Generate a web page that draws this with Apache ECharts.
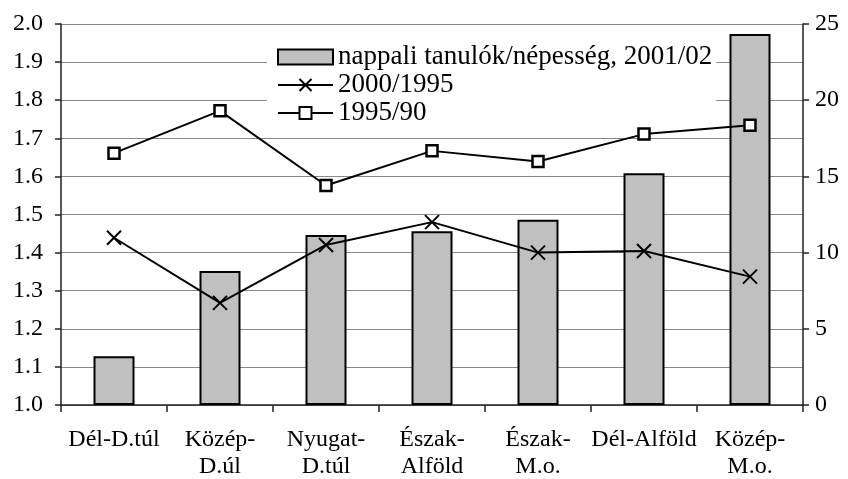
<!DOCTYPE html>
<html>
<head>
<meta charset="utf-8">
<script src="https://cdn.jsdelivr.net/npm/echarts@6/dist/echarts.min.js"></script>
<style>
html,body{margin:0;padding:0;background:#fff;}
#chart{width:848px;height:479px;}
</style>
</head>
<body>
<div id="chart"></div>
<script>
// ---- data ----
var categories = ['Dél-D.túl', 'Közép-\nD.úl', 'Nyugat-\nD.túl', 'Észak-\nAlföld', 'Észak-\nM.o.', 'Dél-Alföld', 'Közép-\nM.o.'];
var seriesNames = ['nappali tanulók/népesség, 2001/02', '2000/1995', '1995/90'];
var barValues = [3.2, 8.8, 11.15, 11.4, 12.15, 15.2, 24.35];
var ratio2000 = [1.439, 1.268, 1.42, 1.48, 1.40, 1.404, 1.337];
var ratio1995 = [1.661, 1.772, 1.576, 1.667, 1.639, 1.711, 1.734];
var leftAxis = {min: 1.0, max: 2.0, step: 0.1};
var rightAxis = {min: 0, max: 25, step: 5};

var FONT = "'Liberation Serif', 'Times New Roman', serif";
var chart = echarts.init(document.getElementById('chart'), null, {renderer: 'canvas'});

chart.setOption({
  animation: false,
  backgroundColor: '#fff',
  textStyle: {fontFamily: FONT, color: '#000'},
  grid: {left: 61, right: 45, top: 24, bottom: 74, containLabel: false, outerBoundsMode: 'none'},
  legend: {
    data: [
      {name: seriesNames[0], icon: 'rect'},
      {name: seriesNames[1]},
      {name: seriesNames[2]}
    ],
    orient: 'vertical',
    left: 267,
    top: 41,
    padding: [2, 4, 0, 10],
    itemGap: 0,
    itemWidth: 55,
    itemHeight: 15,
    backgroundColor: '#fff',
    textStyle: {fontFamily: FONT, fontSize: 27, lineHeight: 28, color: '#000'}
  },
  xAxis: {
    type: 'category',
    data: categories,
    boundaryGap: true,
    axisLine: {lineStyle: {color: '#222', width: 1.5}},
    axisTick: {show: true, length: 7, lineStyle: {color: '#222', width: 1.5}},
    axisLabel: {fontFamily: FONT, fontSize: 24, lineHeight: 27, color: '#000', margin: 21, interval: 0}
  },
  yAxis: [
    {
      type: 'value',
      min: leftAxis.min, max: leftAxis.max, interval: leftAxis.step,
      position: 'left',
      axisLine: {show: true, lineStyle: {color: '#222', width: 1.5}},
      axisTick: {show: true, length: 6, lineStyle: {color: '#222', width: 1.5}},
      axisLabel: {fontFamily: FONT, fontSize: 24, color: '#000', margin: 18,
        formatter: function (v) { return v.toFixed(1); }},
      splitLine: {show: true, lineStyle: {color: '#888', width: 1}}
    },
    {
      type: 'value',
      min: rightAxis.min, max: rightAxis.max, interval: rightAxis.step,
      position: 'right',
      axisLine: {show: true, lineStyle: {color: '#222', width: 1.5}},
      axisTick: {show: true, length: 6, lineStyle: {color: '#222', width: 1.5}},
      axisLabel: {fontFamily: FONT, fontSize: 24, color: '#000', margin: 12},
      splitLine: {show: false}
    }
  ],
  series: [
    {
      name: seriesNames[0],
      type: 'bar',
      yAxisIndex: 1,
      data: barValues,
      barWidth: 41,
      itemStyle: {color: '#c0c0c0', borderColor: '#000', borderWidth: 2}
    },
    {
      name: seriesNames[1],
      type: 'line',
      yAxisIndex: 0,
      data: ratio2000,
      symbol: 'path://M0,0L10,10M10,0L0,10',
      symbolSize: 14,
      lineStyle: {color: '#000', width: 2},
      itemStyle: {color: '#000', borderColor: '#000', borderWidth: 2}
    },
    {
      name: seriesNames[2],
      type: 'line',
      yAxisIndex: 0,
      data: ratio1995,
      symbol: 'rect',
      symbolSize: 11,
      lineStyle: {color: '#000', width: 2},
      itemStyle: {color: '#fff', borderColor: '#000', borderWidth: 2.5}
    }
  ]
});
</script>
</body>
</html>
